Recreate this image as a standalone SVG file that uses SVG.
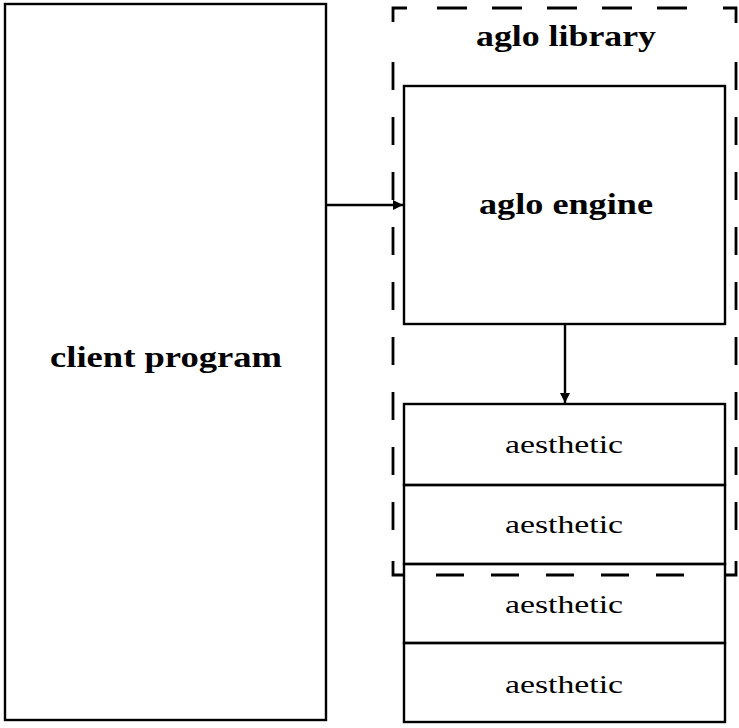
<svg xmlns="http://www.w3.org/2000/svg" width="739" height="728" viewBox="0 0 739 728">
<defs>
<style>
.box{fill:none;stroke:#000;stroke-width:2.4}
.dash{fill:none;stroke:#000;stroke-width:2.8}
.conn{fill:none;stroke:#000;stroke-width:2.4}
.bold{font-family:"Liberation Serif",serif;font-weight:bold;font-size:29px;text-anchor:middle;fill:#000}
.reg{font-family:"Liberation Serif",serif;font-size:26px;text-anchor:middle;fill:#000}
</style>
<marker id="ah" viewBox="0 0 10 10" refX="10" refY="5" markerWidth="11" markerHeight="10" markerUnits="userSpaceOnUse" orient="auto">
<path d="M0,0 L10,5 L0,10 z" fill="#000"/>
</marker>
</defs>
<rect width="739" height="728" fill="#fff"/>
<g id="client">
<rect class="box" x="5" y="4" width="321" height="716"/>
<text class="bold" x="166" y="367" textLength="232" lengthAdjust="spacingAndGlyphs">client program</text>
</g>
<g id="library">
<path class="dash" d="M393,22 V8 H407 M723,8 H736 V23 M393,561 V575 H404 M725,575 H736 V561"/>
<line class="dash" x1="437" y1="8" x2="690" y2="8" stroke-dasharray="30 25"/>
<line class="dash" x1="436" y1="575" x2="690" y2="575" stroke-dasharray="28 27"/>
<line class="dash" x1="393" y1="62" x2="393" y2="535" stroke-dasharray="28 27"/>
<line class="dash" x1="736" y1="62" x2="736" y2="535" stroke-dasharray="28 27"/>
<text class="bold" x="566" y="46" textLength="180" lengthAdjust="spacingAndGlyphs">aglo library</text>
</g>
<g id="engine">
<rect class="box" x="404" y="86" width="321" height="238"/>
<text class="bold" x="566" y="214" textLength="174" lengthAdjust="spacingAndGlyphs">aglo engine</text>
</g>
<g id="aesthetic1">
<rect class="box" x="404" y="404" width="321" height="81"/>
<text class="reg" x="564" y="453" textLength="118" lengthAdjust="spacingAndGlyphs">aesthetic</text>
</g>
<g id="aesthetic2">
<rect class="box" x="404" y="485" width="321" height="79"/>
<text class="reg" x="564" y="533" textLength="118" lengthAdjust="spacingAndGlyphs">aesthetic</text>
</g>
<g id="aesthetic3">
<rect class="box" x="404" y="564" width="321" height="79"/>
<text class="reg" x="564" y="613" textLength="118" lengthAdjust="spacingAndGlyphs">aesthetic</text>
</g>
<g id="aesthetic4">
<rect class="box" x="404" y="643" width="321" height="79"/>
<text class="reg" x="564" y="693" textLength="118" lengthAdjust="spacingAndGlyphs">aesthetic</text>
</g>
<g id="connectors">
<line class="conn" x1="326" y1="205" x2="403" y2="205" marker-end="url(#ah)"/>
<line class="conn" x1="565" y1="324" x2="565" y2="403" marker-end="url(#ah)"/>
</g>
</svg>
